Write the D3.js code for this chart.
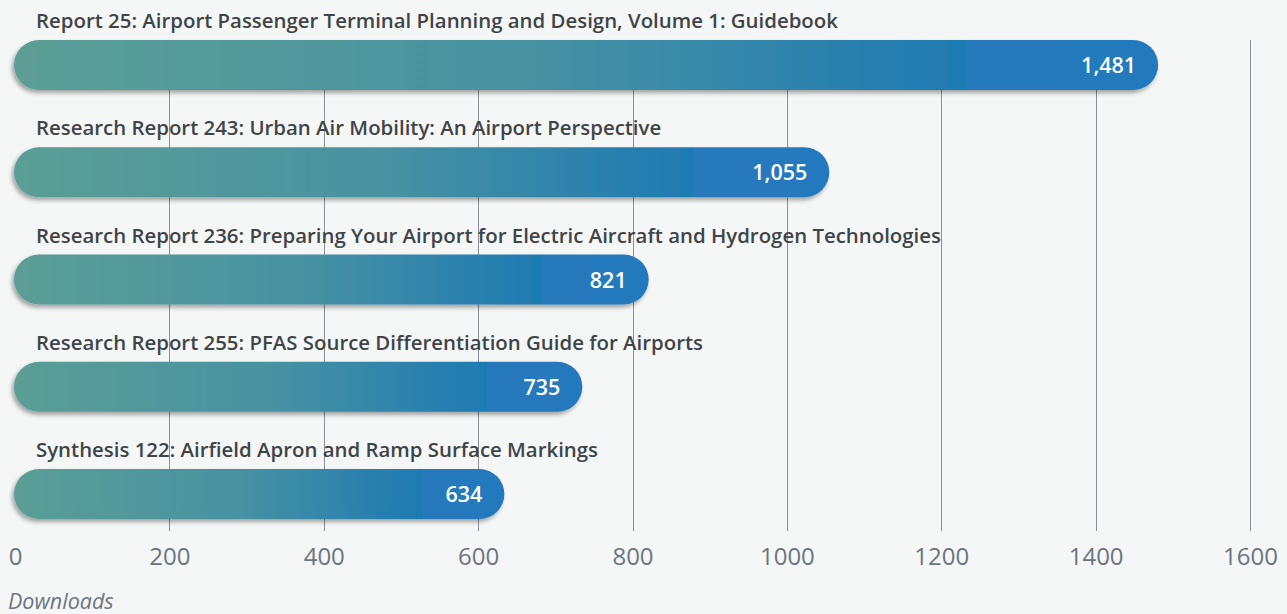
<!DOCTYPE html>
<html><head><meta charset="utf-8">
<script src="https://cdn.jsdelivr.net/npm/d3@7"></script>
<style>
html,body{margin:0;padding:0;background:#f5f7f7;}
svg{display:block;font-family:"Open Sans",sans-serif;}
</style></head>
<body><svg id="c" width="1287" height="614"></svg>
<script>
const categories = [
  "Report 25: Airport Passenger Terminal Planning and Design, Volume 1: Guidebook",
  "Research Report 243: Urban Air Mobility: An Airport Perspective",
  "Research Report 236: Preparing Your Airport for Electric Aircraft and Hydrogen Technologies",
  "Research Report 255: PFAS Source Differentiation Guide for Airports",
  "Synthesis 122: Airfield Apron and Ramp Surface Markings"
];
const values = [1481, 1055, 821, 735, 634];
const tickValues = [0, 200, 400, 600, 800, 1000, 1200, 1400, 1600];
const axisTitle = "Downloads";

const svg = d3.select("#c");
const x = d3.scaleLinear().domain([0, 1600]).range([15, 1250]);
const y = d3.scaleBand().domain(categories).range([11.4, 547.6]).padding(0);
const barH = 50;

const defs = svg.append("defs");
const f = defs.append("filter").attr("id","sh").attr("x","-5%").attr("y","-30%").attr("width","110%").attr("height","170%");
f.append("feDropShadow").attr("dx",-2).attr("dy",3).attr("stdDeviation",2).attr("flood-color","#000").attr("flood-opacity",0.35);

values.forEach((v,i)=>{
  const g = defs.append("linearGradient").attr("id","g"+i).attr("gradientUnits","objectBoundingBox")
    .attr("x1",0).attr("x2",1).attr("y1",0).attr("y2",0);
  g.append("stop").attr("offset",0).attr("stop-color","#5b9e95");
  g.append("stop").attr("offset",0.45).attr("stop-color","#4892a2");
  g.append("stop").attr("offset",0.833).attr("stop-color","#1e7ab3");
  g.append("stop").attr("offset",0.833).attr("stop-color","#2679bb");
  g.append("stop").attr("offset",1).attr("stop-color","#2479bd");
});

// gridlines
svg.append("g").selectAll("line").data(tickValues.slice(1)).join("line")
  .attr("x1",d=>Math.round(x(d))+0.5).attr("x2",d=>Math.round(x(d))+0.5)
  .attr("y1",40).attr("y2",531)
  .attr("stroke","#8a9199").attr("stroke-width",1);

// axis labels
const axis = d3.axisBottom(x).tickValues(tickValues).tickFormat(d3.format("d")).tickSize(0).tickPadding(0);
const ag = svg.append("g").attr("transform","translate(0,565)").call(axis);
ag.select(".domain").remove();
ag.selectAll("text").attr("font-size",24).attr("fill","#6b7580").attr("font-family","'Open Sans',sans-serif").attr("dy",0).attr("y",0);

// category labels
svg.append("g").selectAll("text").data(categories).join("text")
  .attr("x",36).attr("y",d=>y(d)+y.bandwidth()/2-37)
  .attr("font-size",20.4).attr("font-weight",600).attr("fill","#3f4448")
  .text(d=>d);

// bars
const bars = svg.append("g").selectAll("g").data(values).join("g");
bars.append("rect")
  .attr("x",14).attr("y",(d,i)=>y(categories[i])+y.bandwidth()/2-barH/2)
  .attr("width",d=>x(d)-14).attr("height",barH)
  .attr("rx",barH/2).attr("ry",barH/2)
  .attr("fill",(d,i)=>`url(#g${i})`).attr("filter","url(#sh)");
bars.append("text")
  .attr("x",d=>x(d)-22).attr("y",(d,i)=>y(categories[i])+y.bandwidth()/2+8)
  .attr("text-anchor","end").attr("font-size",21.5).attr("font-weight",600).attr("fill","#fff")
  .text(d=>d3.format(",")(d));

svg.append("text").attr("x",8).attr("y",609).attr("font-size",21.5).attr("font-style","italic")
  .attr("fill","#6b7580").text(axisTitle);
</script></body></html>
